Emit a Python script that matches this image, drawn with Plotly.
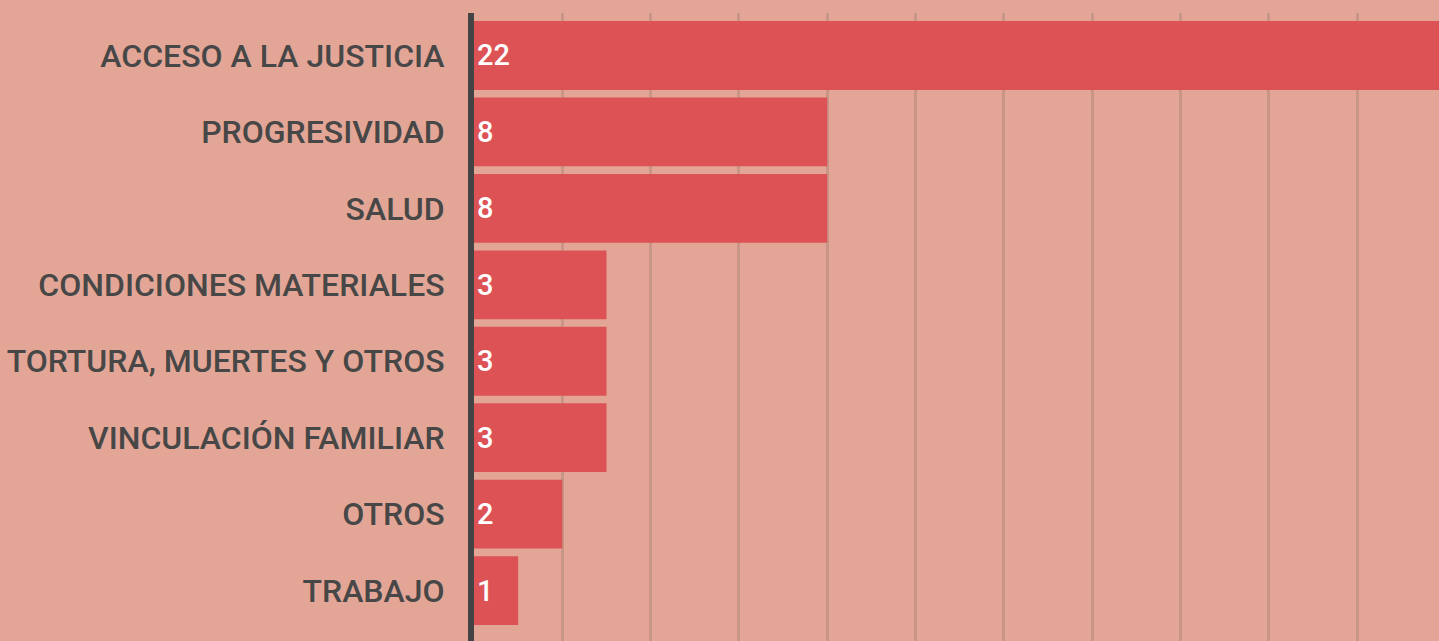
import plotly.graph_objects as go

categories = ["ACCESO A LA JUSTICIA", "PROGRESIVIDAD", "SALUD", "CONDICIONES MATERIALES",
              "TORTURA, MUERTES Y OTROS", "VINCULACIÓN FAMILIAR", "OTROS", "TRABAJO"]
values = [22, 8, 8, 3, 3, 3, 2, 1]

BG = "#E3A696"
BAR = "#DD5255"
TXT = "#474747"

fig = go.Figure(go.Bar(
    x=values, y=categories, orientation="h",
    marker=dict(color=BAR, line=dict(width=0)),
    text=[str(v) for v in values], textposition="inside", insidetextanchor="start",
    textfont=dict(family="Roboto", size=29, color="white", weight=500),
    width=0.9, hoverinfo="skip",
))

fig.update_layout(
    width=1439, height=641,
    paper_bgcolor=BG, plot_bgcolor=BG,
    margin=dict(l=474, r=0, t=13, b=0),
    showlegend=False,
    font=dict(family="Roboto"),
)
fig.update_xaxes(range=[0, 21.85], dtick=2, showgrid=True, gridcolor="#C89686", gridwidth=3,
                 zeroline=False, showticklabels=False, ticks="")
fig.update_yaxes(range=[7.66, -0.556], showgrid=False, showline=True, linecolor="#444444",
                 linewidth=6, ticks="", ticklabelstandoff=17,
                 tickfont=dict(family="Roboto", size=32, color=TXT, weight=500))

fig.write_html("out.html", config={"displayModeBar": False},
               post_script="document.body.style.margin='0';document.body.style.overflow='hidden';")
